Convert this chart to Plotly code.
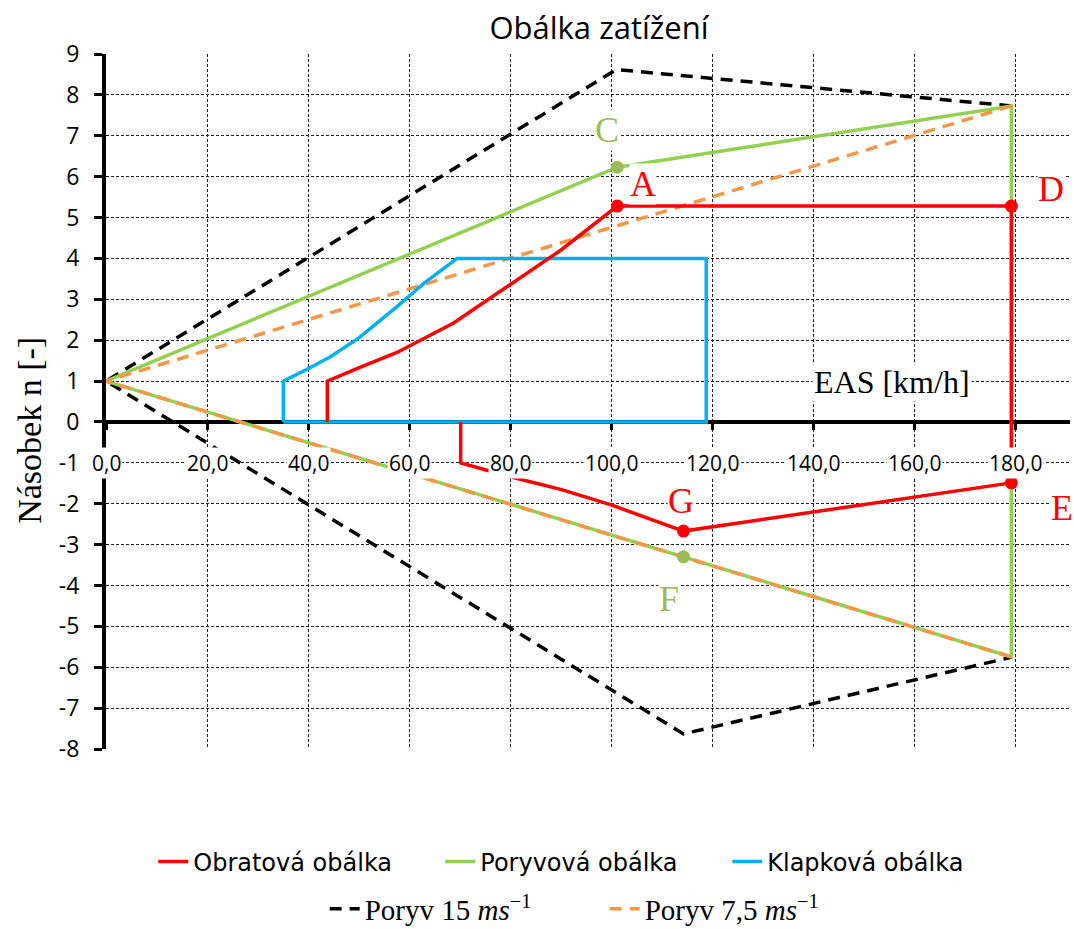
import plotly.graph_objects as go

# ---- data ----
red_x = [43.8, 43.8, 50, 57.6, 68.8, 80, 90, 101.2, 179.2, 179.2, 114.3, 100, 90, 80, 75.4, 70.2, 70.2]
red_y = [0, 1.0, 1.32, 1.70, 2.42, 3.35, 4.2, 5.28, 5.28, -1.49, -2.67, -2.03, -1.65, -1.34, -1.18, -1.0, 0]

green_x = [0, 101.2, 179.2, 179.2, 114.3, 0]
green_y = [1, 6.23, 7.73, -5.75, -3.30, 1]

blue_x = [35.1, 35.1, 40, 44.5, 50, 57.6, 62.9, 69.5, 118.8, 118.8, 35.1]
blue_y = [0, 1.0, 1.3, 1.6, 2.05, 2.82, 3.39, 4.0, 4.0, 0, 0]

gust15_x = [179.2, 101.0, 0, 114.3, 179.4]
gust15_y = [7.73, 8.62, 1, -7.63, -5.75]

gust75_x = [179.2, 0, 179.2]
gust75_y = [7.73, 1, -5.75]

red_pts_x = [101.2, 179.2, 179.2, 114.3]
red_pts_y = [5.28, 5.28, -1.49, -2.67]
green_pts_x = [101.2, 114.3]
green_pts_y = [6.23, -3.30]

point_labels = ["C", "A", "D", "G", "E", "F"]
point_label_x = [99.2, 106.3, 187.1, 113.9, 189.3, 111.5]
point_label_y = [7.14, 5.82, 5.71, -1.93, -2.1, -4.33]
point_label_col = ["#9BBB59", "#FF0000", "#FF0000", "#FF0000", "#FF0000", "#9BBB59"]

x_ticks = [0, 20, 40, 60, 80, 100, 120, 140, 160, 180]
y_ticks = list(range(-8, 10))

RED = "#FF0000"
GREEN = "#92D050"
BLUE = "#00B0F0"
ORANGE = "#F79646"

fig = go.Figure()

fig.add_trace(go.Scatter(x=gust15_x, y=gust15_y, mode="lines", name="Poryv 15 <i>ms</i><sup>−1</sup>",
                         line=dict(color="black", width=3.5, dash="12px,8px"), legend="legend2"))
fig.add_trace(go.Scatter(x=green_x, y=green_y, mode="lines", name="Poryvová obálka",
                         line=dict(color=GREEN, width=3.5), legendrank=2))
fig.add_trace(go.Scatter(x=gust75_x, y=gust75_y, mode="lines", name="Poryv 7,5 <i>ms</i><sup>−1</sup>",
                         line=dict(color=ORANGE, width=3.5, dash="12px,8px"), legend="legend2"))
fig.add_trace(go.Scatter(x=blue_x, y=blue_y, mode="lines", name="Klapková obálka",
                         line=dict(color=BLUE, width=3.5), legendrank=3))
fig.add_trace(go.Scatter(x=red_x, y=red_y, mode="lines", name="Obratová obálka",
                         line=dict(color=RED, width=3.5), legendrank=1))
fig.add_trace(go.Scatter(x=red_pts_x, y=red_pts_y, mode="markers", showlegend=False,
                         marker=dict(color=RED, size=13)))
fig.add_trace(go.Scatter(x=green_pts_x, y=green_pts_y, mode="markers", showlegend=False,
                         marker=dict(color="#9BBB59", size=13)))

annotations = []
# x tick labels on the -1 row with white background
for v in x_ticks:
    annotations.append(dict(x=v, y=-1, xref="x", yref="y", text=f"{v},0", showarrow=False,
                            font=dict(family="Open Sans", size=21, color="black"),
                            bgcolor="white", borderpad=1))
# point letters
for t, lx, ly, c in zip(point_labels, point_label_x, point_label_y, point_label_col):
    annotations.append(dict(x=lx, y=ly, xref="x", yref="y", text=t, showarrow=False,
                            font=dict(family="Liberation Serif", size=36, color=c),
                            bgcolor="white", borderpad=0))
annotations.append(dict(x=155.6, y=0.98, xref="x", yref="y", text="EAS [km/h]", showarrow=False,
                        font=dict(family="Liberation Serif", size=32, color="black"),
                        bgcolor="white", borderpad=1))
annotations.append(dict(x=-0.079, y=0.459, xref="paper", yref="paper", text="Násobek n [-]",
                        xanchor="center", yanchor="middle",
                        showarrow=False, textangle=-90,
                        font=dict(family="Liberation Serif", size=34, color="black")))

fig.update_layout(
    width=1074, height=929,
    margin=dict(l=106, r=4, t=54, b=180),
    paper_bgcolor="white", plot_bgcolor="white",
    title=dict(text="Obálka zatížení", x=599 / 1074, xanchor="center", y=1 - 28 / 929, yanchor="middle",
               font=dict(family="Open Sans", size=31, color="black")),
    xaxis=dict(range=[0, 190.8], tickvals=x_ticks, showticklabels=False,
               showgrid=True, gridcolor="#222", gridwidth=1, griddash="3px,2px",
               zeroline=False, showline=True, linecolor="black", linewidth=4,
               ticks="outside", ticklen=6, tickwidth=3, tickcolor="black",
               anchor="free", position=8 / 17, layer="below traces", automargin=False),
    yaxis=dict(range=[-8, 9], tickvals=y_ticks, ticktext=[str(v) for v in y_ticks],
               showgrid=True, gridcolor="#222", gridwidth=1, griddash="3px,2px",
               zeroline=False, showline=True, linecolor="black", linewidth=4,
               ticks="outside", ticklen=8, tickwidth=3, tickcolor="black",
               tickfont=dict(family="Open Sans", size=23, color="black"),
               ticklabelstandoff=10, layer="below traces", automargin=False),
    legend=dict(orientation="h", x=0.4956, xanchor="center", yref="container",
                y=1 - 862 / 929, yanchor="middle",
                entrywidth=242, font=dict(family="DejaVu Sans", size=24, color="black"),
                bgcolor="rgba(0,0,0,0)"),
    legend2=dict(orientation="h", x=0.5173, xanchor="center", yref="container",
                 y=1 - 909 / 929, yanchor="middle",
                 entrywidth=235, font=dict(family="Liberation Serif", size=29, color="black"),
                 bgcolor="rgba(0,0,0,0)"),
    annotations=annotations,
)

fig.write_html("out.html", config={"displayModeBar": False},
               post_script="document.body.style.margin='0px';")
